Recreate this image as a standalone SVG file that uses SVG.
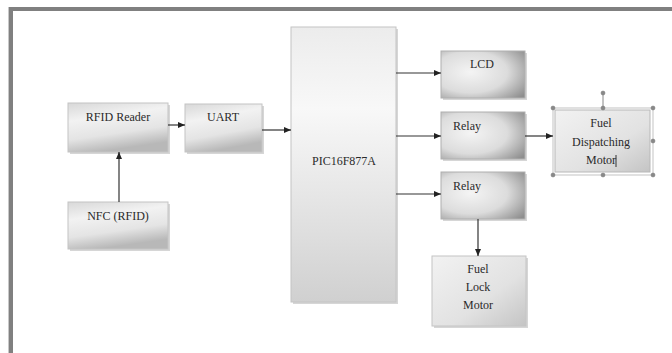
<svg xmlns="http://www.w3.org/2000/svg" width="672" height="353" viewBox="0 0 672 353" font-family="'Liberation Serif', 'DejaVu Serif', serif">
<defs>
<linearGradient id="g1" x1="0" y1="0" x2="0.3" y2="1">
<stop offset="0" stop-color="#d8d8d8"/>
<stop offset="0.35" stop-color="#f2f2f2"/>
<stop offset="0.7" stop-color="#e4e4e4"/>
<stop offset="1" stop-color="#b8b8b8"/>
</linearGradient>
<radialGradient id="g2" cx="0.35" cy="0.45" r="0.8">
<stop offset="0" stop-color="#f4f4f4"/>
<stop offset="0.55" stop-color="#dcdcdc"/>
<stop offset="1" stop-color="#8e8e8e"/>
</radialGradient>
<linearGradient id="g3" x1="0" y1="0" x2="0" y2="1">
<stop offset="0" stop-color="#ececec"/>
<stop offset="0.3" stop-color="#f8f8f8"/>
<stop offset="1" stop-color="#d0d0d0"/>
</linearGradient>
<linearGradient id="g4" x1="0" y1="0" x2="1" y2="1">
<stop offset="0" stop-color="#f2f2f2"/>
<stop offset="0.6" stop-color="#e2e2e2"/>
<stop offset="1" stop-color="#c4c4c4"/>
</linearGradient>
<marker id="ah" markerWidth="8" markerHeight="8" refX="7" refY="4" orient="auto" markerUnits="userSpaceOnUse">
<path d="M0,1 L7,4 L0,7 Z" fill="#222"/>
</marker>
</defs>
<style>
text{font-family:"Liberation Serif","DejaVu Serif",serif}
.t{font-size:12px;fill:#2a2a2a;text-anchor:middle}
.c{stroke:#333;stroke-width:1.2;fill:none;marker-end:url(#ah)}
.b1{fill:url(#g1);stroke:#c4c4c4;stroke-width:1}
.b2{fill:url(#g2);stroke:#b0b0b0;stroke-width:1}
.sh{fill:#d6d6d6}
.h{fill:#888;stroke:#777;stroke-width:0.5}
</style>
<rect x="0" y="0" width="672" height="353" fill="#fff"/>
<g id="frame">
<rect x="9" y="7" width="663" height="4" fill="#808080"/>
<rect x="9" y="7" width="4" height="346" fill="#808080"/>
<rect x="8" y="7" width="1" height="346" fill="#c8c8c8"/>
</g>
<g id="rfid-reader">
<rect class="sh" x="70" y="105" width="100" height="49"/>
<rect class="b1" x="68" y="103" width="100" height="49"/>
<text class="t" x="118" y="121">RFID Reader</text>
</g>
<g id="uart">
<rect class="sh" x="187" y="106" width="77" height="48"/>
<rect class="b1" x="185" y="104" width="77" height="48"/>
<text class="t" x="223" y="121">UART</text>
</g>
<g id="nfc">
<rect class="sh" x="70" y="204" width="100" height="47"/>
<rect class="b1" x="68" y="202" width="100" height="47"/>
<text class="t" x="118" y="220">NFC (RFID)</text>
</g>
<g id="pic">
<rect class="sh" x="293" y="29" width="105" height="275"/>
<rect x="291" y="27" width="105" height="275" fill="url(#g3)" stroke="#c4c4c4"/>
<text class="t" x="344" y="165">PIC16F877A</text>
</g>
<g id="lcd">
<rect class="sh" x="443" y="53" width="84" height="47"/>
<rect class="b2" x="441" y="51" width="84" height="47"/>
<text class="t" x="482" y="68">LCD</text>
</g>
<g id="relay1">
<rect class="sh" x="443" y="114" width="84" height="47"/>
<rect class="b2" x="441" y="112" width="84" height="47"/>
<text class="t" x="467" y="130">Relay</text>
</g>
<g id="relay2">
<rect class="sh" x="443" y="174" width="84" height="47"/>
<rect class="b2" x="441" y="172" width="84" height="47"/>
<text class="t" x="467" y="190">Relay</text>
</g>
<g id="fuel-lock-motor">
<rect class="sh" x="434" y="258" width="94" height="70"/>
<rect x="432" y="256" width="94" height="70" fill="url(#g4)" stroke="#c4c4c4"/>
<text class="t" x="478" y="273">Fuel</text>
<text class="t" x="478" y="291">Lock</text>
<text class="t" x="478" y="309">Motor</text>
</g>
<g id="fuel-dispatching-motor">
<rect x="553" y="108" width="100" height="67" fill="none" stroke="#999" stroke-width="0.6"/>
<rect x="555" y="110" width="95" height="62" fill="url(#g4)" stroke="#b8b8b8"/>
<text class="t" x="601" y="127">Fuel</text>
<text class="t" x="601" y="146">Dispatching</text>
<text class="t" x="601" y="164">Motor</text>
<line x1="616" y1="155" x2="616" y2="167" stroke="#333" stroke-width="1"/>
<line x1="603" y1="94" x2="603" y2="108" stroke="#888" stroke-width="1"/>
<circle class="h" cx="603" cy="93" r="2"/>
<circle class="h" cx="553" cy="108" r="2"/>
<circle class="h" cx="603" cy="108" r="2"/>
<circle class="h" cx="653" cy="108" r="2"/>
<circle class="h" cx="653" cy="141" r="2"/>
<circle class="h" cx="553" cy="175" r="2"/>
<circle class="h" cx="603" cy="175" r="2"/>
<circle class="h" cx="653" cy="175" r="2"/>
</g>
<g id="connectors">
<line class="c" x1="168" y1="125" x2="185" y2="125"/>
<line class="c" x1="119" y1="202" x2="119" y2="152"/>
<line class="c" x1="262" y1="130" x2="291" y2="130"/>
<line class="c" x1="396" y1="73" x2="441" y2="73"/>
<line class="c" x1="396" y1="136" x2="441" y2="136"/>
<line class="c" x1="396" y1="194" x2="441" y2="194"/>
<line class="c" x1="525" y1="136" x2="553" y2="136"/>
<line class="c" x1="478" y1="219" x2="478" y2="256"/>
</g>
</svg>
